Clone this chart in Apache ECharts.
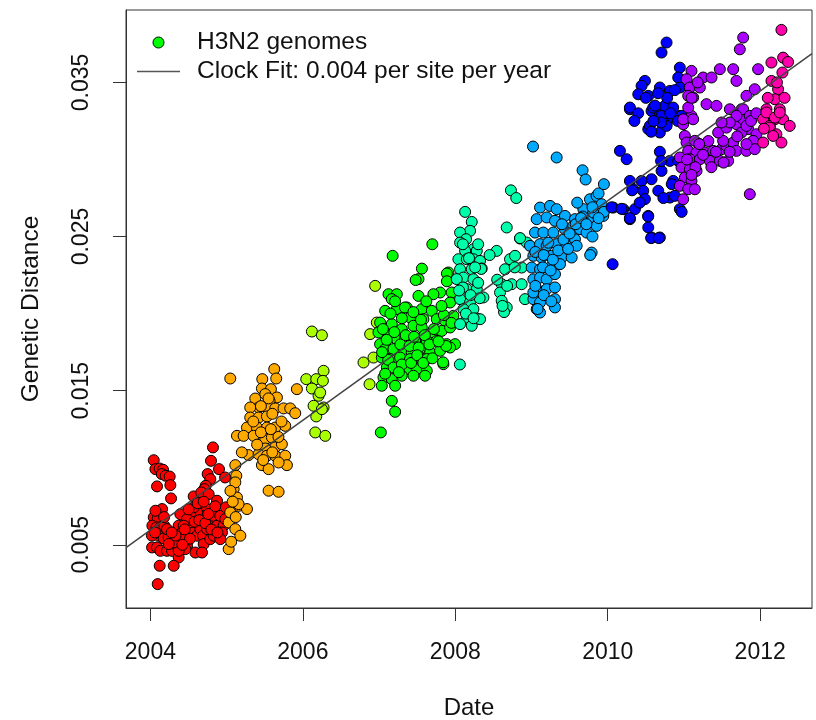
<!DOCTYPE html>
<html lang="en">
<head>
    <meta charset="UTF-8">
    <title>H3N2 clock</title>
    <script src="https://cdn.jsdelivr.net/npm/echarts@6/dist/echarts.min.js"></script>
    <style>
        html, body { margin: 0; padding: 0; background: #fff; }
        #chart { width: 816px; height: 720px; }
    </style>
</head>
<body>
<div id="chart"></div>
<script type="text/javascript">
    // points per season, [date, genetic distance]
    const red = [
        [2004.044, 0.01049], [2004.066, 0.00991], [2004.122, 0.00995], [2004.166, 0.00987], [2004.149, 0.00959],
        [2004.201, 0.00948], [2004.253, 0.00943], [2004.087, 0.00879], [2004.262, 0.00887], [2004.271, 0.00801],
        [2004.821, 0.01132], [2004.795, 0.01045], [2004.900, 0.00991], [2004.751, 0.00959], [2004.786, 0.00926],
        [2004.980, 0.00937], [2004.725, 0.00883], [2004.708, 0.00861], [2004.603, 0.00807], [2004.568, 0.00814],
        [2004.668, 0.00840], [2004.765, 0.00829], [2004.874, 0.00786], [2004.633, 0.00764], [2004.044, 0.00678],
        [2004.096, 0.00671], [2004.153, 0.00732], [2004.066, 0.00721], [2004.026, 0.00624], [2004.079, 0.00613],
        [2004.131, 0.00613], [2004.183, 0.00624], [2004.109, 0.00559], [2004.175, 0.00541], [2004.240, 0.00548],
        [2004.022, 0.00483], [2004.087, 0.00483], [2004.131, 0.00461], [2004.218, 0.00461], [2004.284, 0.00461],
        [2004.349, 0.00494], [2004.371, 0.00418], [2004.306, 0.00364], [2004.122, 0.00364], [2004.096, 0.00245],
        [2004.393, 0.00699], [2004.371, 0.00624], [2004.415, 0.00580], [2004.481, 0.00559], [2004.524, 0.00624],
        [2004.559, 0.00580], [2004.612, 0.00559], [2004.655, 0.00602], [2004.690, 0.00559], [2004.743, 0.00602],
        [2004.786, 0.00645], [2004.830, 0.00688], [2004.874, 0.00624], [2004.917, 0.00688], [2004.961, 0.00624],
        [2004.939, 0.00580], [2004.990, 0.00743], [2004.983, 0.00667], [2004.743, 0.00732], [2004.699, 0.00688],
        [2004.612, 0.00710], [2004.568, 0.00743], [2004.524, 0.00688], [2004.481, 0.00667], [2004.437, 0.00624],
        [2004.415, 0.00537], [2004.481, 0.00494], [2004.590, 0.00450], [2004.699, 0.00505], [2004.677, 0.00450],
        [2004.786, 0.00537], [2004.830, 0.00559], [2004.917, 0.00537], [2004.459, 0.00472], [2004.371, 0.00461],
        [2004.306, 0.00515], [2004.240, 0.00505], [2004.218, 0.00602], [2004.020, 0.00560], [2004.330, 0.00560],
        [2004.450, 0.00600], [2004.520, 0.00540], [2004.580, 0.00650], [2004.640, 0.00660], [2004.720, 0.00640],
        [2004.800, 0.00600], [2004.880, 0.00580], [2004.500, 0.00730], [2004.620, 0.00770], [2004.420, 0.00500],
        [2004.280, 0.00580], [2004.180, 0.00680], [2004.060, 0.00580], [2004.700, 0.00780], [2004.850, 0.00750],
        [2004.760, 0.00700]
    ];
    const orange = [
        [2005.048, 0.01579], [2005.625, 0.01640], [2005.651, 0.01579], [2005.468, 0.01575], [2005.463, 0.01514],
        [2005.581, 0.01510], [2005.507, 0.01478], [2005.660, 0.01456], [2005.564, 0.01434], [2005.376, 0.01449],
        [2005.420, 0.01391], [2005.310, 0.01391], [2005.529, 0.01391], [2005.638, 0.01385], [2005.747, 0.01385],
        [2005.835, 0.01385], [2005.900, 0.01354], [2005.922, 0.01510], [2005.310, 0.01326], [2005.420, 0.01326],
        [2005.529, 0.01333], [2005.267, 0.01261], [2005.398, 0.01261], [2005.529, 0.01261], [2005.638, 0.01261],
        [2005.769, 0.01272], [2005.136, 0.01207], [2005.223, 0.01207], [2005.354, 0.01207], [2005.507, 0.01186],
        [2005.594, 0.01197], [2005.638, 0.01132], [2005.725, 0.01153], [2005.507, 0.01125], [2005.288, 0.01082],
        [2005.420, 0.01088], [2005.529, 0.01078], [2005.638, 0.01078], [2005.769, 0.01078], [2005.463, 0.01017],
        [2005.551, 0.00991], [2005.791, 0.01017], [2005.682, 0.01034], [2005.551, 0.00851], [2005.682, 0.00844],
        [2005.114, 0.01017], [2005.127, 0.00948], [2005.092, 0.00861], [2005.136, 0.00807], [2005.158, 0.00753],
        [2005.267, 0.00732], [2005.027, 0.00645], [2005.114, 0.00602], [2005.180, 0.00559], [2005.027, 0.00472],
        [2005.048, 0.00710], [2005.114, 0.00905], [2005.157, 0.00764], [2005.450, 0.01230], [2005.600, 0.01350],
        [2005.350, 0.01300], [2005.450, 0.01400], [2005.580, 0.01250], [2005.680, 0.01200], [2005.400, 0.01150],
        [2005.600, 0.01100], [2005.480, 0.01050], [2005.720, 0.01300], [2005.200, 0.01100], [2005.550, 0.01450],
        [2005.050, 0.00850], [2005.080, 0.00780], [2005.120, 0.00680], [2005.060, 0.00520]
    ];
    const yellowGreen = [
        [2006.119, 0.01884], [2006.250, 0.01860], [2006.045, 0.01575], [2006.176, 0.01575], [2006.272, 0.01629],
        [2006.263, 0.01564], [2006.119, 0.01514], [2006.206, 0.01467], [2006.272, 0.01391], [2006.141, 0.01402],
        [2006.176, 0.01333], [2006.163, 0.01229], [2006.294, 0.01207], [2006.228, 0.01488], [2006.250, 0.01380],
        [2006.949, 0.02180], [2006.883, 0.01867], [2006.796, 0.01683], [2006.927, 0.01715], [2006.875, 0.01542],
        [2006.970, 0.01942]
    ];
    const green = [
        [2007.517, 0.02224], [2007.124, 0.02126], [2007.233, 0.02126], [2007.167, 0.02094], [2007.364, 0.02040],
        [2007.517, 0.02115], [2007.560, 0.02029], [2007.692, 0.02018], [2007.801, 0.02137], [2007.713, 0.02126],
        [2007.910, 0.02267], [2007.953, 0.02137], [2007.932, 0.02072], [2007.080, 0.02018], [2007.233, 0.02029],
        [2007.407, 0.01975], [2007.582, 0.01964], [2007.757, 0.01964], [2007.866, 0.01953], [2007.975, 0.01986],
        [2007.014, 0.01942], [2007.167, 0.01932], [2007.298, 0.01899], [2007.451, 0.01921], [2007.560, 0.01910],
        [2007.692, 0.01878], [2007.822, 0.01888], [2007.932, 0.01910], [2006.992, 0.01878], [2007.124, 0.01856],
        [2007.233, 0.01834], [2007.342, 0.01845], [2007.473, 0.01823], [2007.626, 0.01823], [2007.757, 0.01823],
        [2007.888, 0.01802], [2007.997, 0.01802], [2007.014, 0.01802], [2007.080, 0.01770], [2007.189, 0.01770],
        [2007.320, 0.01770], [2007.429, 0.01748], [2007.538, 0.01770], [2007.670, 0.01748], [2007.801, 0.01759],
        [2007.932, 0.01780], [2007.036, 0.01715], [2007.145, 0.01705], [2007.276, 0.01715], [2007.407, 0.01705],
        [2007.538, 0.01715], [2007.626, 0.01705], [2007.844, 0.01672], [2007.102, 0.01651], [2007.233, 0.01640],
        [2007.364, 0.01640], [2007.495, 0.01640], [2007.626, 0.01629], [2007.058, 0.01586], [2007.167, 0.01575],
        [2007.298, 0.01597], [2007.451, 0.01597], [2007.604, 0.01597], [2007.036, 0.01532], [2007.211, 0.01532],
        [2007.167, 0.01434], [2007.211, 0.01363], [2007.023, 0.01229], [2007.178, 0.02375], [2007.699, 0.02450],
        [2007.562, 0.02292], [2007.480, 0.02218], [2007.340, 0.02040], [2007.210, 0.02080], [2007.840, 0.01684],
        [2007.880, 0.01790], [2007.890, 0.02260], [2007.890, 0.02210],
        [2007.050, 0.01900], [2007.100, 0.01830], [2007.200, 0.01880], [2007.280, 0.01800], [2007.350, 0.01860],
        [2007.400, 0.01790], [2007.460, 0.01850], [2007.520, 0.01780], [2007.600, 0.01860], [2007.660, 0.01800],
        [2007.720, 0.01900], [2007.780, 0.01820], [2007.120, 0.01700], [2007.190, 0.01650], [2007.300, 0.01670],
        [2007.420, 0.01680], [2007.500, 0.01730], [2007.580, 0.01680], [2007.700, 0.01710], [2007.080, 0.01610],
        [2007.260, 0.01620], [2007.550, 0.01960], [2007.450, 0.02010], [2007.300, 0.01970], [2007.150, 0.02000],
        [2007.850, 0.01990], [2007.950, 0.01940], [2007.620, 0.02080], [2007.820, 0.02050], [2007.040, 0.01750]
    ];
    const teal = [
        [2008.129, 0.02660], [2008.216, 0.02595], [2008.194, 0.02537], [2008.063, 0.02526], [2008.142, 0.02483],
        [2008.063, 0.02461], [2008.238, 0.02418], [2008.129, 0.02407], [2008.282, 0.02407], [2008.041, 0.02353],
        [2008.151, 0.02353], [2008.238, 0.02353], [2008.325, 0.02342], [2008.063, 0.02288], [2008.216, 0.02288],
        [2008.347, 0.02293], [2008.107, 0.02234], [2008.238, 0.02223], [2008.151, 0.02159], [2008.282, 0.02159],
        [2008.369, 0.02105], [2008.063, 0.02094], [2008.194, 0.02072], [2008.107, 0.02029], [2008.238, 0.02029],
        [2008.151, 0.01975], [2008.282, 0.01968], [2008.063, 0.01932], [2008.216, 0.01921], [2008.325, 0.01964],
        [2008.675, 0.02559], [2008.849, 0.02487], [2008.937, 0.02461], [2008.544, 0.02407], [2008.718, 0.02353],
        [2008.653, 0.02288], [2008.784, 0.02375], [2008.871, 0.02299], [2008.609, 0.02191], [2008.740, 0.02191],
        [2008.871, 0.02191], [2008.587, 0.02137], [2008.609, 0.02083], [2008.675, 0.02040], [2008.915, 0.02094],
        [2008.730, 0.02800], [2008.800, 0.02750], [2008.060, 0.01670], [2008.340, 0.02290], [2008.320, 0.02100],
        [2008.640, 0.02010], [2008.850, 0.02490], [2008.019, 0.02224],
        [2008.100, 0.02450], [2008.180, 0.02360], [2008.260, 0.02300], [2008.100, 0.02170], [2008.200, 0.02120],
        [2008.300, 0.02200], [2008.140, 0.02000], [2008.240, 0.01970], [2008.050, 0.02150], [2008.300, 0.02450],
        [2008.450, 0.02380], [2008.550, 0.02220], [2008.680, 0.02180], [2008.780, 0.02300], [2008.620, 0.02050]
    ];
    const skyBlue = [
        [2009.112, 0.02688], [2009.243, 0.02699], [2009.330, 0.02678], [2009.068, 0.02613], [2009.199, 0.02624],
        [2009.308, 0.02602], [2009.439, 0.02634], [2009.570, 0.02613], [2009.046, 0.02526], [2009.155, 0.02526],
        [2009.286, 0.02526], [2009.439, 0.02548], [2009.548, 0.02569], [2009.636, 0.02548], [2009.745, 0.02613],
        [2009.680, 0.02678], [2009.767, 0.02742], [2009.854, 0.02764], [2009.920, 0.02710], [2009.942, 0.02634],
        [2009.811, 0.02656], [2009.854, 0.02569], [2009.723, 0.02526], [2009.570, 0.02483], [2008.980, 0.02440],
        [2009.112, 0.02451], [2009.199, 0.02440], [2009.330, 0.02451], [2009.461, 0.02440], [2009.592, 0.02440],
        [2009.024, 0.02375], [2009.133, 0.02364], [2009.264, 0.02375], [2009.396, 0.02364], [2009.527, 0.02364],
        [2009.789, 0.02396], [2009.002, 0.02299], [2009.112, 0.02288], [2009.243, 0.02299], [2009.374, 0.02321],
        [2009.024, 0.02223], [2009.112, 0.02234], [2009.199, 0.02223], [2009.308, 0.02256], [2009.068, 0.02159],
        [2009.199, 0.02159], [2009.308, 0.02170], [2009.024, 0.02094], [2009.112, 0.02072], [2009.308, 0.02094],
        [2009.068, 0.02029], [2009.112, 0.02007], [2009.308, 0.02040], [2009.024, 0.02137], [2009.020, 0.03084],
        [2009.330, 0.03013], [2009.670, 0.02930], [2009.710, 0.02870], [2009.880, 0.02780], [2009.950, 0.02840],
        [2009.770, 0.02380], [2009.600, 0.02720], [2009.800, 0.02690], [2009.950, 0.02660], [2009.670, 0.02630],
        [2009.050, 0.02400], [2009.160, 0.02380], [2009.220, 0.02460], [2009.280, 0.02350], [2009.350, 0.02410],
        [2009.420, 0.02480], [2009.500, 0.02520], [2009.580, 0.02580], [2009.650, 0.02620], [2009.720, 0.02580],
        [2009.800, 0.02500], [2009.880, 0.02620], [2009.150, 0.02300], [2009.250, 0.02280], [2009.050, 0.02180],
        [2009.160, 0.02120], [2009.260, 0.02080], [2009.080, 0.02030], [2009.400, 0.02580], [2009.480, 0.02420]
    ];
    const blue = [
        [2010.291, 0.03326], [2010.575, 0.03315], [2010.684, 0.03294], [2010.837, 0.03283], [2010.946, 0.03283],
        [2010.772, 0.03229], [2010.684, 0.03175], [2010.532, 0.03197], [2010.160, 0.03056], [2010.248, 0.03002],
        [2010.684, 0.03050], [2010.816, 0.02991], [2010.925, 0.02991], [2010.706, 0.02926], [2010.575, 0.02872],
        [2010.444, 0.02861], [2010.291, 0.02861], [2010.859, 0.02861], [2010.335, 0.02807], [2010.466, 0.02797],
        [2010.663, 0.02797], [2010.816, 0.02753], [2010.881, 0.02764], [2010.073, 0.02688], [2010.204, 0.02678],
        [2010.357, 0.02678], [2010.488, 0.02743], [2010.291, 0.02613], [2010.532, 0.02634], [2010.532, 0.02559],
        [2010.575, 0.02494], [2010.684, 0.02494], [2010.946, 0.02678], [2010.064, 0.02321], [2010.772, 0.03759],
        [2010.706, 0.03694], [2010.946, 0.03596], [2010.488, 0.03510], [2010.444, 0.03478], [2010.684, 0.03467],
        [2010.532, 0.03413], [2010.401, 0.03423], [2010.291, 0.03337], [2010.816, 0.03445], [2010.925, 0.03532],
        [2010.946, 0.03467], [2010.597, 0.03337], [2010.750, 0.03348], [2010.859, 0.03337], [2010.968, 0.03283],
        [2010.706, 0.03283], [2010.859, 0.03272], [2010.553, 0.03218], [2010.772, 0.03218], [2010.050, 0.02690],
        [2010.180, 0.02680], [2010.320, 0.02800], [2010.420, 0.02720], [2010.290, 0.02620], [2010.530, 0.02630],
        [2010.570, 0.02490], [2010.670, 0.02490], [2010.730, 0.02750], [2010.970, 0.02660], [2010.840, 0.02840],
        [2010.700, 0.02990], [2010.570, 0.03180], [2010.700, 0.03240],
        [2010.400, 0.03300], [2010.500, 0.03400], [2010.620, 0.03350], [2010.780, 0.03400], [2010.880, 0.03450],
        [2010.660, 0.03430], [2010.820, 0.03300], [2010.920, 0.03250], [2010.350, 0.03250], [2010.600, 0.03250]
    ];
    const purple = [
        [2010.990, 0.03229], [2011.099, 0.03283], [2011.012, 0.03153], [2011.034, 0.03110], [2011.143, 0.03121],
        [2011.209, 0.03099], [2011.056, 0.03056], [2011.165, 0.03045], [2011.274, 0.03045], [2011.383, 0.03056],
        [2011.493, 0.03067], [2011.558, 0.03088], [2011.646, 0.03110], [2011.514, 0.03121], [2011.449, 0.03175],
        [2011.558, 0.03207], [2011.689, 0.03229], [2011.777, 0.03261], [2011.842, 0.03197], [2011.951, 0.03164],
        [2011.908, 0.03121], [2011.755, 0.03175], [2011.689, 0.03056], [2011.820, 0.03056], [2011.929, 0.03067],
        [2010.946, 0.03013], [2011.077, 0.03002], [2011.209, 0.03002], [2011.340, 0.02991], [2011.471, 0.02991],
        [2011.580, 0.02991], [2010.968, 0.02948], [2011.077, 0.02937], [2011.165, 0.02926], [2011.012, 0.02883],
        [2011.099, 0.02861], [2010.946, 0.02829], [2011.056, 0.02807], [2011.143, 0.02807], [2010.990, 0.02742],
        [2011.864, 0.02775], [2011.755, 0.03326], [2011.602, 0.03326], [2011.777, 0.03791], [2011.733, 0.03715],
        [2011.099, 0.03575], [2011.252, 0.03532], [2011.362, 0.03532], [2011.471, 0.03586], [2011.646, 0.03586],
        [2011.689, 0.03510], [2011.973, 0.03586], [2011.034, 0.03521], [2011.077, 0.03467], [2011.209, 0.03467],
        [2011.056, 0.03413], [2011.121, 0.03402], [2011.296, 0.03359], [2011.427, 0.03348], [2011.056, 0.03337],
        [2010.990, 0.03261], [2011.121, 0.03261], [2011.820, 0.03413], [2011.929, 0.03456], [2011.777, 0.03326],
        [2011.864, 0.03283], [2011.689, 0.03283], [2011.602, 0.03240], [2011.820, 0.03218], [2011.493, 0.03240],
        [2011.150, 0.02950], [2011.250, 0.03030], [2011.320, 0.03120], [2011.420, 0.03050], [2011.600, 0.03050],
        [2011.700, 0.03150], [2011.820, 0.03100], [2011.100, 0.02900], [2011.040, 0.03000], [2011.200, 0.03100],
        [2011.360, 0.02950], [2011.520, 0.02980], [2011.880, 0.03250], [2011.950, 0.03300], [2011.100, 0.03400],
        [2011.180, 0.03500]
    ];
    const pink = [
        [2012.279, 0.03841], [2012.148, 0.03629], [2012.301, 0.03661], [2012.366, 0.03633], [2012.292, 0.03564],
        [2012.148, 0.03510], [2012.235, 0.03456], [2012.192, 0.03391], [2012.083, 0.03326], [2012.257, 0.03326],
        [2012.039, 0.03261], [2012.192, 0.03261], [2012.301, 0.03261], [2012.126, 0.03218], [2012.388, 0.03218],
        [2012.082, 0.03305], [2012.192, 0.03272], [2012.257, 0.03305], [2012.126, 0.03207], [2012.213, 0.03164],
        [2012.039, 0.03110], [2012.279, 0.03110], [2012.170, 0.03153], [2012.100, 0.03400], [2012.220, 0.03500],
        [2012.320, 0.03400], [2012.050, 0.03200]
    ];
    const seasons = [red, orange, yellowGreen, green, teal, skyBlue, blue, purple, pink];
    const seasonColors = ['#FF0000', '#FFAA00', '#AAFF00', '#00FF00', '#00FFAA', '#00AAFF', '#0000FF', '#AA00FF', '#FF00AA'];

    // clock fit drawn across the whole plot
    const fitX = [2003.68, 2012.68];
    const fitY = [0.00482, 0.03687];

    const xTicks = [2004, 2006, 2008, 2010, 2012];
    const yTicks = [0.005, 0.015, 0.025, 0.035];

    const pointName = 'H3N2 genomes';
    const fitName = 'Clock Fit: 0.004 per site per year';
    const font = "'Liberation Sans', Arial, sans-serif";

    let chart = echarts.init(document.getElementById('chart'));

    let series = seasons.map((pts, i) => ({
        name: pointName,
        type: 'scatter',
        data: pts,
        symbol: 'circle',
        symbolSize: 11,
        itemStyle: {
            color: seasonColors[i],
            borderColor: '#000',
            borderWidth: 1,
            opacity: 1
        }
    }));
    series.push({
        name: fitName,
        type: 'line',
        data: fitX.map((x, i) => [x, fitY[i]]),
        symbol: 'none',
        lineStyle: {color: '#444', width: 1.5},
        itemStyle: {color: '#444'},
        z: 5,
        silent: true
    });

    chart.setOption({
        animation: false,
        textStyle: {fontFamily: font},
        grid: {
            left: 126,
            right: 4,
            top: 10,
            bottom: 112,
            outerBoundsMode: 'none',
            containLabel: false,
            show: true,
            borderColor: '#333',
            borderWidth: 1,
            backgroundColor: '#fff'
        },
        legend: {
            orient: 'vertical',
            left: 132,
            top: 25,
            itemWidth: 43,
            itemHeight: 11,
            itemGap: 4,
            textStyle: {fontSize: 24.5, color: '#111', fontFamily: font, padding: [0, 0, 0, 12]},
            data: [
                {name: pointName, icon: 'circle', itemStyle: {color: '#00FF00', borderColor: '#000', borderWidth: 1}},
                {name: fitName, icon: 'path://M0,0 L43,0 L43,1.5 L0,1.5 Z', itemStyle: {color: '#555', borderWidth: 0}}
            ]
        },
        xAxis: {
            type: 'value',
            min: 2003.68,
            max: 2012.68,
            name: 'Date',
            nameLocation: 'middle',
            nameGap: 88,
            nameTextStyle: {fontSize: 24, color: '#111', fontFamily: font},
            splitLine: {show: false},
            axisLine: {show: true, lineStyle: {color: '#333'}},
            axisTick: {show: true, length: 13, lineStyle: {color: '#333'}, customValues: xTicks},
            axisLabel: {
                fontSize: 23, color: '#111', margin: 33, fontFamily: font,
                customValues: xTicks,
                formatter: v => String(Math.round(v))
            }
        },
        yAxis: {
            type: 'value',
            min: 0.0009,
            max: 0.0397,
            name: 'Genetic Distance',
            nameLocation: 'middle',
            nameRotate: 90,
            nameGap: 82,
            nameTextStyle: {fontSize: 24.5, color: '#111', fontFamily: font},
            splitLine: {show: false},
            axisLine: {show: true, lineStyle: {color: '#333'}},
            axisTick: {show: true, length: 13, lineStyle: {color: '#333'}, customValues: yTicks},
            axisLabel: {
                fontSize: 23, color: '#111', margin: 33, rotate: 90, fontFamily: font,
                customValues: yTicks,
                formatter: v => v.toFixed(3)
            }
        },
        series: series
    });
</script>
</body>
</html>
